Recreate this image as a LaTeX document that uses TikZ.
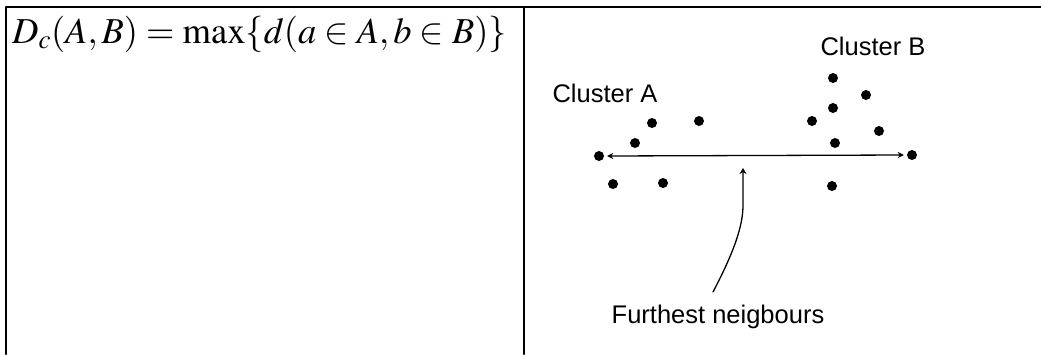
\documentclass[tikz,border=0pt]{standalone}
\usepackage{mathptmx}
\usepackage{fontspec}
\setmainfont{Liberation Serif}
\newfontfamily\labelfont{Liberation Sans}
\usetikzlibrary{arrows.meta}

\begin{document}
\begin{tikzpicture}[line cap=round,line join=round,x=1pt,y=-1pt,
    dot/.style={circle, fill=black, inner sep=0, minimum size=10pt},
    lbl/.style={inner sep=0, font=\labelfont\fontsize{25.5}{28}\selectfont}]
      \useasboundingbox (0,0) rectangle (1041,354);

      % table rules
      \draw[line width=2.2pt] (6,354) -- (6,7) -- (1041,7);
      \draw[line width=2.2pt] (524,7) -- (524,354);

      % formula
      \node[inner sep=0, anchor=base west] (formula) at (12,43)
        {\fontsize{36.5}{40}\selectfont $D_c(A,B)=\max\{d(a\in A,b\in B)\}$};

      % cluster A
      \node[lbl] (clA) at (605,93) {Cluster A};
      \node[dot] (a1) at (599,156) {};
      \node[dot] (a2) at (635,143) {};
      \node[dot] (a3) at (652,123) {};
      \node[dot] (a4) at (699,121) {};
      \node[dot] (a5) at (613,184) {};
      \node[dot] (a6) at (663,183) {};

      % cluster B
      \node[lbl] (clB) at (873,46) {Cluster B};
      \node[dot] (b1) at (833,78) {};
      \node[dot] (b2) at (866,95) {};
      \node[dot] (b3) at (833,108) {};
      \node[dot] (b4) at (812,121) {};
      \node[dot] (b5) at (879,131) {};
      \node[dot] (b6) at (835,143) {};
      \node[dot] (b7) at (912,155) {};
      \node[dot] (b8) at (832,186) {};

      % furthest pair
      \draw[{Stealth[length=6pt,width=6pt]}-{Stealth[length=6pt,width=6pt]}, line width=1.3pt]
        ([xshift=3pt]a1.east) -- ([xshift=-3pt]b7.west);

      % pointer
      \node[lbl] (far) at (718,317) {Furthest neigbours};
      \coordinate (tail) at (713,292);
      \coordinate (tip) at (743,168);
      \draw[-{Stealth[length=6pt,width=7pt]}, line width=1.3pt]
        (tail) .. controls (735,250) and (743,225) .. (743,205) -- (tip);
\end{tikzpicture}
\end{document}
